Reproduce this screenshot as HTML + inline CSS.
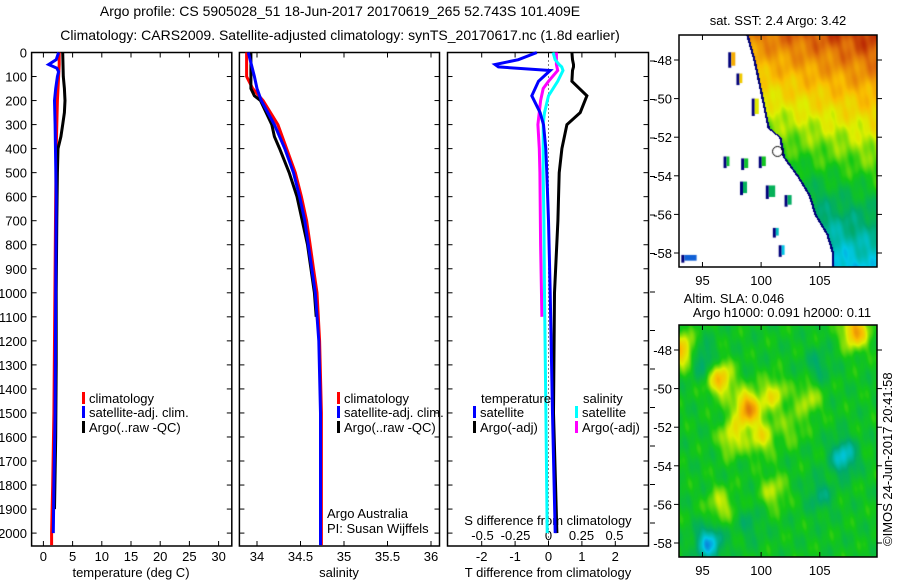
<!DOCTYPE html>
<html><head><meta charset="utf-8"><style>
html,body{margin:0;padding:0;background:#fff;}
#root{position:relative;width:900px;height:580px;overflow:hidden;font-family:"Liberation Sans",sans-serif;}
svg text{font-family:"Liberation Sans",sans-serif;font-size:13px;fill:#000;}
canvas{position:absolute;}
</style></head><body>
<div id="root">
<svg id="svg" width="900" height="580" style="position:absolute;left:0;top:0"></svg>
<canvas id="sst" width="198" height="232" style="left:679px;top:35px"></canvas>
<canvas id="sla" width="198" height="232" style="left:679px;top:325px"></canvas>
<svg id="svg2" width="900" height="580" style="position:absolute;left:0;top:0"></svg>
</div>
<script>
// ---- data ----
const depthsTclim=[0,50,100,200,300,400,600,900,1200,1500,1800,2000,2050];
const tempClim=[2.7,2.7,2.6,2.4,2.3,2.2,2.1,2.0,1.9,1.8,1.6,1.4,1.4];
const depthsTsat=[0,30,50,65,80,100,150,200,300,600,1000,1500,1800,2000];
const tempSat=[2.6,2.2,0.9,2.3,2.6,2.4,2.1,1.9,2.0,2.2,2.1,2.0,1.8,1.7];
const depthsArgo=[0,100,150,200,250,300,350,400,500,700,1000,1300,1600,1900];
const tempArgo=[3.3,3.4,3.6,3.7,3.6,3.3,3.0,2.5,2.4,2.3,2.2,2.2,2.1,1.9];
const depthsS=[0,100,150,200,300,400,500,600,700,800,900,1000,1200,1500,2000,2050];
const salClim=[33.88,33.88,33.95,34.07,34.24,34.34,34.44,34.51,34.57,34.61,34.65,34.69,34.72,34.74,34.74,34.74];
const salSat=[33.9,33.97,34.0,34.05,34.2,34.32,34.42,34.49,34.55,34.59,34.63,34.67,34.71,34.73,34.73,34.73];
const depthsSA=[0,150,180,200,300,350,400,500,600,800,1000,1100];
const salArgo=[33.93,33.93,33.97,34.04,34.17,34.2,34.26,34.37,34.46,34.58,34.66,34.68];
const depthsD=[0,30,50,60,75,120,180,250,300,400,500,700,1000,1500,2000];
const dTsat=[-0.35,-0.9,-1.6,-1.5,0.05,-0.3,-0.5,-0.25,-0.15,-0.08,-0.05,0,0.05,0.12,0.2];
const dTargo=[0.7,0.72,0.75,0.75,0.72,0.7,1.15,0.95,0.55,0.4,0.32,0.28,0.18,0.15,0.25];
const dSsat=[0.035,0.05,0.08,0.1,0.11,0.07,0.0,-0.03,-0.04,-0.04,-0.04,-0.035,-0.03,-0.02,-0.01];
const depthsDSA=[0,50,75,120,150,200,300,400,500,800,1100];
const dSargo=[0.06,0.06,0.07,0.0,-0.04,-0.06,-0.08,-0.07,-0.065,-0.06,-0.05];
const tempTicks=[0,5,10,15,20,25,30];
const salTicks=[34,34.5,35,35.5,36];
const salTickLabels=["34","34.5","35","35.5","36"];
const dTTicks=[-2,-1,0,1,2];
const dSTicks=[-0.5,-0.25,0,0.25,0.5];
const dSTickLabels=["-0.5","-0.25","0","0.25","0.5"];
const depthTicks=[0,100,200,300,400,500,600,700,800,900,1000,1100,1200,1300,1400,1500,1600,1700,1800,1900,2000];
const lonTicks=[95,100,105];
const latTicks=[-48,-50,-52,-54,-56,-58];

// ---- axes ----
const TOP=52.5,BOT=546;
const yD=d=>TOP+d*0.2403;
const xT=t=>43.4+t*5.84;
const xS=s=>257+(s-34)*87;
const xDT=t=>548.5+t*33.4;
const xDS=s=>548.5+s*132;
const NS="http://www.w3.org/2000/svg";
const svg=document.getElementById('svg');
function el(tag,attrs,parent){const e=document.createElementNS(NS,tag);for(const k in attrs)e.setAttribute(k,attrs[k]);(parent||svg).appendChild(e);return e;}
function txt(x,y,s,anchor,parent,name){const t=el('text',{x:x,y:y,'text-anchor':anchor||'start'},parent);t.textContent=s;


return t;}
function line(xs,ds,fx,color,name,w){
 const pts=xs.map((v,i)=>fx(v).toFixed(1)+','+yD(ds[i]).toFixed(1)).join(' ');
 const p=el('polyline',{points:pts,fill:'none',stroke:color,'stroke-width':w||3,'stroke-linejoin':'miter'});
 
 
}
const panels=[[31.6,231.8],[239.4,439.5],[447.5,648.5]];
panels.forEach((p,i)=>{
 const r=el('rect',{x:p[0],y:TOP,width:p[1]-p[0],height:BOT-TOP,fill:'none',stroke:'#000','stroke-width':1.5});
 
 
 depthTicks.forEach(d=>{const y=yD(d);
  el('line',{x1:p[0],x2:p[0]+5,y1:y,y2:y,stroke:'#000'});
  el('line',{x1:p[1],x2:p[1]-5,y1:y,y2:y,stroke:'#000'});});
});
depthTicks.forEach(d=>txt(27,yD(d)+5,String(d),'end',null,'depth-tick-label'));
tempTicks.forEach(t=>{const x=xT(t);el('line',{x1:x,x2:x,y1:TOP,y2:TOP+5,stroke:'#000'});el('line',{x1:x,x2:x,y1:BOT,y2:BOT-5,stroke:'#000'});txt(x,561,String(t),'middle',null,'temp-tick-label');});
salTicks.forEach((s,i)=>{const x=xS(s);el('line',{x1:x,x2:x,y1:TOP,y2:TOP+5,stroke:'#000'});el('line',{x1:x,x2:x,y1:BOT,y2:BOT-5,stroke:'#000'});txt(x,561,salTickLabels[i],'middle',null,'sal-tick-label');});
dTTicks.forEach(t=>{const x=xDT(t);el('line',{x1:x,x2:x,y1:TOP,y2:TOP+5,stroke:'#000'});el('line',{x1:x,x2:x,y1:BOT,y2:BOT-5,stroke:'#000'});txt(x,561,String(t),'middle',null,'dt-tick-label');});
dSTicks.forEach((s,i)=>txt(xDS(s),540,dSTickLabels[i],'middle',null,'ds-tick-label'));
for(let y=61;y<545;y+=38.5)el('line',{x1:650,x2:655,y1:y,y2:y,stroke:'#000'});
el('line',{x1:xDT(0),x2:xDT(0),y1:TOP,y2:BOT,stroke:'#000','stroke-dasharray':'1,3'});

txt(131,577,'temperature (deg C)','middle',null,'temp-axis-title');
txt(339,577,'salinity','middle',null,'sal-axis-title');
txt(548,577,'T difference from climatology','middle',null,'dt-axis-title');
txt(548,525,'S difference from climatology','middle',null,'ds-axis-title');
const t1=txt(340,16,'Argo profile: CS 5905028_51 18-Jun-2017 20170619_265 52.743S 101.409E','middle',null,'title-line-1');
const t2=txt(340,40,'Climatology: CARS2009. Satellite-adjusted climatology: synTS_20170617.nc (1.8d earlier)','middle',null,'title-line-2');
t1.setAttribute('style','font-size:14px');t2.setAttribute('style','font-size:14px');

line(tempClim,depthsTclim,xT,'#f00','temp-climatology-line');
line(tempArgo,depthsArgo,xT,'#000','temp-argo-line');
line(tempSat,depthsTsat,xT,'#00f','temp-satellite-line');
line(salClim,depthsS,xS,'#f00','sal-climatology-line');
line(salArgo,depthsSA,xS,'#000','sal-argo-line');
line(salSat,depthsS,xS,'#00f','sal-satellite-line');
line(dTargo,depthsD,xDT,'#000','dt-argo-line');
line(dSargo,depthsDSA,xDS,'#f0f','ds-argo-line');
line(dSsat,depthsD,xDS,'#0ff','ds-satellite-line');
line(dTsat,depthsD,xDT,'#00f','dt-satellite-line');

function leg(x,y,c,s,name){const r=el('rect',{x:x,y:y-11,width:3,height:12,fill:c});
 
 
 txt(x+7,y,s,'start',null,name);}
[[31.6,82],[239.4,337]].forEach((p,i)=>{
 leg(p[1],403,'#f00','climatology','legend-climatology');
 leg(p[1],417,'#00f','satellite-adj. clim.','legend-satellite');
 leg(p[1],432,'#000','Argo(..raw -QC)','legend-argo');});
txt(481,403,'temperature','start',null,'legend-temperature-heading');
txt(583,403,'salinity','start',null,'legend-salinity-heading');
leg(473,417,'#00f','satellite','legend-t-satellite');
leg(473,432,'#000','Argo(-adj)','legend-t-argo');
leg(575,417,'#0ff','satellite','legend-s-satellite');
leg(575,432,'#f0f','Argo(-adj)','legend-s-argo');
txt(327,518,'Argo Australia','start',null,'credit-line-1');
txt(327,533,'PI: Susan Wijffels','start',null,'credit-line-2');

// ---- maps ----
const stops=[[0,[20,70,210]],[0.15,[0,200,230]],[0.3,[0,170,110]],[0.45,[20,200,20]],[0.6,[220,240,0]],[0.72,[250,190,0]],[0.85,[225,115,10]],[1,[165,0,0]]];
function cmap(v){v=Math.max(0,Math.min(1,v));for(let i=1;i<stops.length;i++){if(v<=stops[i][0]){const a=stops[i-1],b=stops[i],f=(v-a[0])/(b[0]-a[0]);return a[1].map((c,k)=>Math.round(c+(b[1][k]-c)*f));}}return stops[stops.length-1][1];}
const lonOf=x=>93.0+x/11.73;
function tex(lo,la){return 0.025*Math.sin(lo*3.1+la*2.3)+0.02*Math.sin(lo*1.7-la*4.1)+0.01*Math.sin(lo*9+la*3);}
function sstv(lo,la){return 0.6+(la+51)*0.065+(lo-104)*0.01;}
const bLat=[-46.5,-48,-50,-51.5,-52,-53,-54,-55,-56,-57,-58,-59];
const bLon=[98.6,99.3,100,100.5,101.5,101.8,103,104,104.5,105.5,106,106];
function bnd(la){for(let i=1;i<bLat.length;i++){if(la>=bLat[i]){const f=(la-bLat[i-1])/(bLat[i]-bLat[i-1]);return bLon[i-1]+(bLon[i]-bLon[i-1])*f;}}return 106;}
(function(){const c=document.getElementById('sst').getContext('2d');const im=c.createImageData(198,232);
 for(let y=0;y<232;y++)for(let x=0;x<198;x++){const lo=lonOf(x),la=-48-(y-25)/19.3;let col=[255,255,255];
  const b=bnd(la);
  if(lo>=b){ if(lo<b+0.2) col=[0,0,120]; else col=cmap(sstv(lo,la)+tex(lo,la));}
  const i=(y*198+x)*4;im.data[i]=col[0];im.data[i+1]=col[1];im.data[i+2]=col[2];im.data[i+3]=255;}
 c.putImageData(im,0,0);
 const isl=[[97.2,-47.6,0.6,0.8],[97.9,-48.7,0.5,0.6],[99.2,-50,0.6,0.9],[96.8,-53,0.5,0.6],[98.3,-53.1,0.6,0.6],[99.8,-53,0.6,0.6],[98.2,-54.3,0.6,0.7],[100.4,-54.5,0.8,0.7],[102,-55,0.6,0.6],[101,-56.7,0.5,0.5],[101.5,-57.6,0.5,0.6],[93.2,-58.1,1.3,0.4]];
 isl.forEach(s=>{const x=(s[0]-93)*11.73,y=25+(-48-s[1])*19.3;c.fillStyle='#00007a';c.fillRect(x,y,3,s[3]*19.3);
  const col=cmap(sstv(s[0],s[1]));c.fillStyle='rgb('+col.join(',')+')';c.fillRect(x+3,y,s[2]*11.73-3,s[3]*19.3-2);});
 c.strokeStyle='#000';c.beginPath();c.arc((101.4-93)*11.73,25+(52.74-48)*19.3,5,0,7);c.stroke();
})();
const blobLon=[96.5,98.8,101,97.5,100,108,93.2,104,96.5,101,107,95.5,95,104.8,102.5,105,99];
const blobLat=[-49.5,-51,-50.3,-52.5,-52.5,-47,-48,-50.5,-56,-55.3,-53.5,-58,-48.5,-48.8,-52,-55.5,-57];
const blobAmp=[0.3,0.38,0.2,0.2,0.2,0.35,0.3,0.15,0.16,0.15,-0.25,-0.3,-0.15,-0.1,0.1,-0.12,-0.08];
(function(){const c=document.getElementById('sla').getContext('2d');const im=c.createImageData(198,232);
 for(let y=0;y<232;y++)for(let x=0;x<198;x++){const lo=lonOf(x),la=-48-(y-25)/19.3;let v=0.42+tex(lo,la);
  for(let k=0;k<blobLon.length;k++){const dx=(lo-blobLon[k])/1.1,dy=(la-blobLat[k])/0.9;v+=blobAmp[k]*Math.exp(-(dx*dx+dy*dy));}
  const col=cmap(v);const i=(y*198+x)*4;im.data[i]=col[0];im.data[i+1]=col[1];im.data[i+2]=col[2];im.data[i+3]=255;}
 c.putImageData(im,0,0);})();
const s2=document.getElementById('svg2');
[[35,'sst'],[325,'sla']].forEach(m=>{const t=m[0];
 const r=el('rect',{x:679,y:t,width:198,height:232,fill:'none',stroke:'#000','stroke-width':1.5},s2);
 
 
 lonTicks.forEach(l=>{const x=679+(l-93)*11.73;el('line',{x1:x,x2:x,y1:t,y2:t+5,stroke:'#000'},s2);el('line',{x1:x,x2:x,y1:t+232,y2:t+227,stroke:'#000'},s2);txt(x,t+232+18,String(l),'middle',s2,'lon-tick-label');});
 latTicks.forEach(l=>{const y=t+25+(-48-l)*19.3;el('line',{x1:679,x2:674,y1:y,y2:y,stroke:'#000'},s2);el('line',{x1:877,x2:882,y1:y,y2:y,stroke:'#000'},s2);txt(672,y+5,String(l),'end',s2,'lat-tick-label');});
});
txt(778,25,'sat. SST: 2.4 Argo: 3.42','middle',s2,'sst-map-title');
txt(734,303,'Altim. SLA: 0.046','middle',s2,'sla-label');
txt(782,317,'Argo h1000: 0.091 h2000: 0.11','middle',s2,'argo-height-label');
const v=txt(0,0,'©IMOS 24-Jun-2017 20:41:58','start',s2,'timestamp');
v.setAttribute('transform','translate(892,546) rotate(-90)');
</script>
</body></html>
